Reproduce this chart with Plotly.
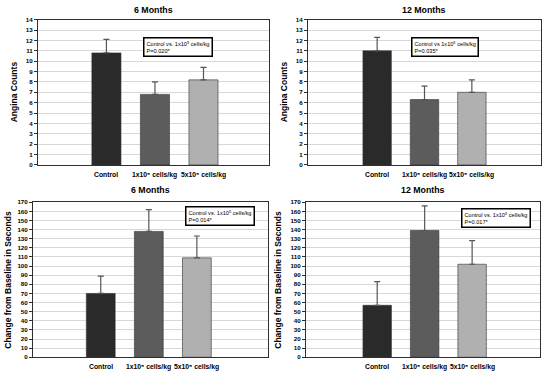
import plotly.graph_objects as go

categories = ["Control", "1x10⁵ cells/kg", "5x10⁵ cells/kg"]
bar_colors = ["#2a2a2a", "#5c5c5c", "#b0b0b0"]

angina_6m = [10.8, 6.8, 8.2]
angina_6m_err = [1.3, 1.2, 1.2]
angina_12m = [11.0, 6.3, 7.0]
angina_12m_err = [1.3, 1.3, 1.2]
change_6m = [70, 138, 109]
change_6m_err = [19, 24, 24]
change_12m = [57, 139, 102]
change_12m_err = [26, 27, 26]

panel_titles = ["6 Months", "12 Months", "6 Months", "12 Months"]
box_texts = [
    "Control vs. 1x10⁵ cells/kg<br>P=0.020*",
    "Control vs 1x10⁵ cells/kg<br>P=0.035*",
    "Control vs. 1x10⁵ cells/kg<br>P=0.014*",
    "Control vs. 1x10⁵ cells/kg<br>P=0.017*",
]
y_titles = ["Angina Counts", "Angina Counts",
            "Change from Baseline in Seconds", "Change from Baseline in Seconds"]

W, H = 543, 375
FONT = "Liberation Sans, Arial, sans-serif"

# panel geometry in pixels: (left, right, top, bottom)
panels = [(38, 269, 16, 164), (308, 541, 16, 164),
          (33, 268, 202, 360), (306, 540, 202, 360)]
xranges = [[-1.41, 3.35], [-1.46, 3.46], [-1.41, 3.48], [-1.5, 3.43]]
yranges = [[0, 14], [0, 14], [0, 170], [0, 170]]
ydtick = [1, 1, 10, 10]
boxes = [(143, 34), (411, 34), (185, 206), (461, 208)]
title_y = [6, 6, 190, 190]
ytitle_x = [14, 284, 8, 278]
label_top = [169, 169, 365, 365]

data = [(angina_6m, angina_6m_err), (angina_12m, angina_12m_err),
        (change_6m, change_6m_err), (change_12m, change_12m_err)]

fig = go.Figure()
layout = dict(width=W, height=H, margin=dict(l=0, r=0, t=0, b=0),
              paper_bgcolor="white", plot_bgcolor="white", showlegend=False)
annotations = []

for i, ((vals, errs), (l, r, t, b)) in enumerate(zip(data, panels)):
    n = "" if i == 0 else str(i + 1)
    fig.add_trace(go.Bar(
        x=list(range(len(categories))), y=vals,
        marker=dict(color=bar_colors, line=dict(color="#333333", width=0.6)),
        width=0.6,
        error_y=dict(type="data", array=errs, arrayminus=[0] * len(errs),
                     symmetric=False, color="#555555", thickness=1.2, width=3),
        xaxis="x" + n, yaxis="y" + n,
    ))
    layout["xaxis" + n] = dict(
        domain=[l / W, r / W], anchor="y" + n, range=xranges[i],
        showticklabels=False,
        showline=True, linecolor="#303030", linewidth=1, mirror=True,
        ticks="", showgrid=False, zeroline=False,
    )
    layout["yaxis" + n] = dict(
        domain=[1 - b / H, 1 - t / H], anchor="x" + n, range=yranges[i],
        dtick=ydtick[i], tick0=0,
        showline=True, linecolor="#303030", linewidth=1, mirror=True,
        ticks="outside", ticklen=3, tickcolor="#303030",
        showgrid=True, gridcolor="#d8d8d8", gridwidth=1, zeroline=False,
        tickfont=dict(family=FONT, size=6.2, color="black", weight="bold"),
    )
    for k, cat in enumerate(categories):
        annotations.append(dict(
            text=cat, xref="x" + n, yref="paper", x=k, y=1 - label_top[i] / H,
            xanchor="center", yanchor="top", showarrow=False, borderpad=0,
            font=dict(family=FONT, size=6.8, color="black", weight="bold"),
        ))
    annotations.append(dict(
        text=panel_titles[i], xref="paper", yref="paper",
        x=(l + r) / 2 / W, y=1 - title_y[i] / H, xanchor="center", yanchor="middle",
        showarrow=False, font=dict(family=FONT, size=8.8, color="black", weight="bold"),
    ))
    annotations.append(dict(
        text=y_titles[i], xref="paper", yref="paper", textangle=-90,
        x=ytitle_x[i] / W, y=1 - (t + b) / 2 / H, xanchor="center", yanchor="middle",
        showarrow=False, font=dict(family=FONT, size=8.5, color="black", weight="bold"),
    ))
    bx, by = boxes[i]
    annotations.append(dict(
        text=box_texts[i], xref="paper", yref="paper", align="left",
        x=bx / W, y=1 - by / H, xanchor="left", yanchor="top",
        showarrow=False, bordercolor="black", borderwidth=1.5, borderpad=2,
        bgcolor="white",
        font=dict(family=FONT, size=5.6, color="black"),
    ))

layout["annotations"] = annotations
fig.update_layout(**layout)
fig.write_html("out.html", config={"displayModeBar": False},
               post_script="document.body.style.margin='0';document.body.style.padding='0';")
